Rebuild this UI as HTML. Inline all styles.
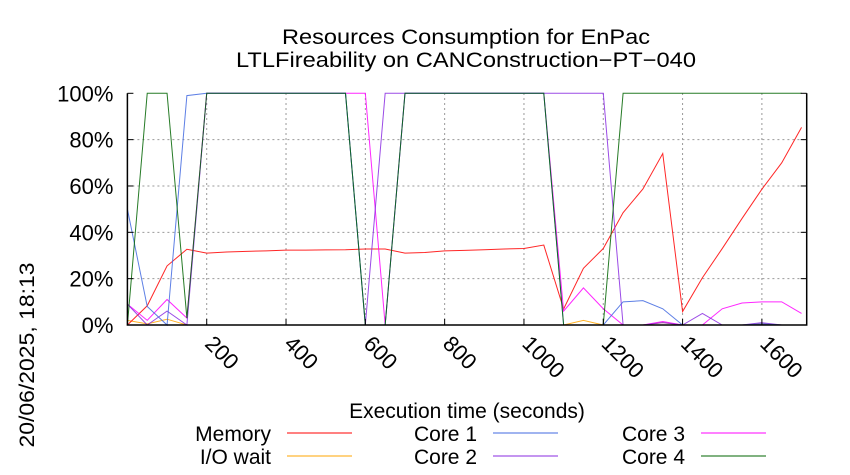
<!DOCTYPE html>
<html><head><meta charset="utf-8"><style>
body{margin:0;background:#fff}
svg{display:block;font-family:"Liberation Sans",sans-serif}
</style></head><body>
<svg id="c" width="850" height="475" xmlns="http://www.w3.org/2000/svg">
<text x="466" y="44" font-size="21" text-anchor="middle" textLength="368" lengthAdjust="spacingAndGlyphs">Resources Consumption for EnPac</text>
<text x="466" y="67" font-size="21" text-anchor="middle" textLength="460" lengthAdjust="spacingAndGlyphs">LTLFireability on CANConstruction−PT−040</text>
<text x="467" y="418" font-size="21" text-anchor="middle">Execution time (seconds)</text>
<text transform="translate(34,355) rotate(-90)" font-size="21" text-anchor="middle" textLength="185" lengthAdjust="spacingAndGlyphs">20/06/2025, 18:13</text>
<g id="grid"></g><g id="series"></g><g id="axes"></g><g id="legend"></g>
</svg>
<script>
const times=[0,50,100,150,200,250,300,350,400,450,500,550,600,650,700,750,800,850,900,950,1000,1050,1100,1150,1200,1250,1300,1350,1400,1450,1500,1550,1600,1650,1700];
const memory=[0,8.3,25.5,32.7,31,31.5,31.8,32,32.3,32.3,32.4,32.5,32.8,32.8,31,31.3,32,32.2,32.5,32.8,33,34.5,6.9,24.5,33,48.5,58.7,74,5.8,20.4,33,46,58.6,70,85.3];
const iowait=[2,0.5,2.5,0,0,0,0,0,0,0,0,0,0,0,0,0,0,0,0,0,0,0,0,2,0,0,0,1,0,0,0,0,0.5,0,0];
const core1=[50,8,0,99,100,100,100,100,100,100,100,100,0,0,100,100,100,100,100,100,100,100,0,0,0,10,10.5,7,0,0,0,0,0.5,0,0];
const core2=[9,0,6,0,100,100,100,100,100,100,100,100,0,100,100,100,100,100,100,100,100,100,100,100,100,0,0,1,0,5,0,0,1,0,0];
const core3=[9,2,11,3,100,100,100,100,100,100,100,100,100,0,100,100,100,100,100,100,100,100,6,16,7,0,0,1.5,0,0,7,9.5,10,10,5];
const core4=[0,100,100,3,100,100,100,100,100,100,100,100,0,0,100,100,100,100,100,100,100,100,0,0,0,100,100,100,100,100,100,100,100,100,100];
const xTicks=[200,400,600,800,1000,1200,1400,1600];
const yTicks=[0,20,40,60,80,100];
const X0=127.4,X1=806.7,Y0=325,Y1=93.3,XMAX=1713;
const sx=v=>X0+v/XMAX*(X1-X0), sy=v=>Y0-v/100*(Y0-Y1);
const NS="http://www.w3.org/2000/svg";
function mk(t,a,p){const e=document.createElementNS(NS,t);for(const k in a)e.setAttribute(k,a[k]);p.appendChild(e);return e;}
const grid=document.getElementById('grid'),axes=document.getElementById('axes'),ser=document.getElementById('series'),leg=document.getElementById('legend');
yTicks.forEach(v=>{
 if(v>0&&v<100){const l=mk('line',{x1:X0,x2:X1,y1:sy(v),y2:sy(v),stroke:'#999','stroke-dasharray':'2,3','stroke-width':1},grid);
 
 }
 const t=mk('text',{x:X0-14,y:sy(v)+8,'font-size':22,'text-anchor':'end'},axes);t.textContent=v+'%';
 
 
 mk('line',{x1:X0,x2:X0+6,y1:sy(v),y2:sy(v),stroke:'#000'},axes);
 mk('line',{x1:X1,x2:X1-6,y1:sy(v),y2:sy(v),stroke:'#000'},axes);
});
xTicks.forEach(v=>{
 const l=mk('line',{x1:sx(v),x2:sx(v),y1:Y0,y2:Y1,stroke:'#999','stroke-dasharray':'2,3'},grid);
 
 
 mk('line',{x1:sx(v),x2:sx(v),y1:Y0,y2:Y0-6,stroke:'#000'},axes);
 const t=mk('text',{transform:`translate(${sx(v)-3},${Y0+20}) rotate(45)`,'font-size':22},axes);t.textContent=v;
 
 
});
const b=mk('path',{d:`M${X0},${Y1}V${Y0}H${X1}V${Y1}`,fill:'none',stroke:'#000','stroke-width':1.5},axes);


const series=[['Memory',memory,'#ff0000'],['I/O wait',iowait,'#ffa500'],['Core 1',core1,'#4169e1'],['Core 2',core2,'#8a2be2'],['Core 3',core3,'#ff00ff'],['Core 4',core4,'#006400']];
const draw=[1,0,4,3,2,5];
draw.forEach(i=>{const [n,d,c]=series[i];
 const p=mk('polyline',{points:d.map((v,j)=>sx(times[j])+','+sy(v)).join(' '),fill:'none',stroke:c,'stroke-width':1,opacity:0.85},ser);
 
 
});
const lx=[271,477,685],ly=[441,464];
series.forEach(([n,d,c],i)=>{
 const col=[0,0,1,1,2,2][i],row=i%2;
 const g=mk('g',{},leg);
 
 
 const t=mk('text',{x:lx[col],y:ly[row],'font-size':21,'text-anchor':'end'},g);t.textContent=n;
 mk('line',{x1:lx[col]+16,x2:lx[col]+81,y1:ly[row]-8,y2:ly[row]-8,stroke:c,'stroke-width':1},g);
});
</script>
</body></html>
